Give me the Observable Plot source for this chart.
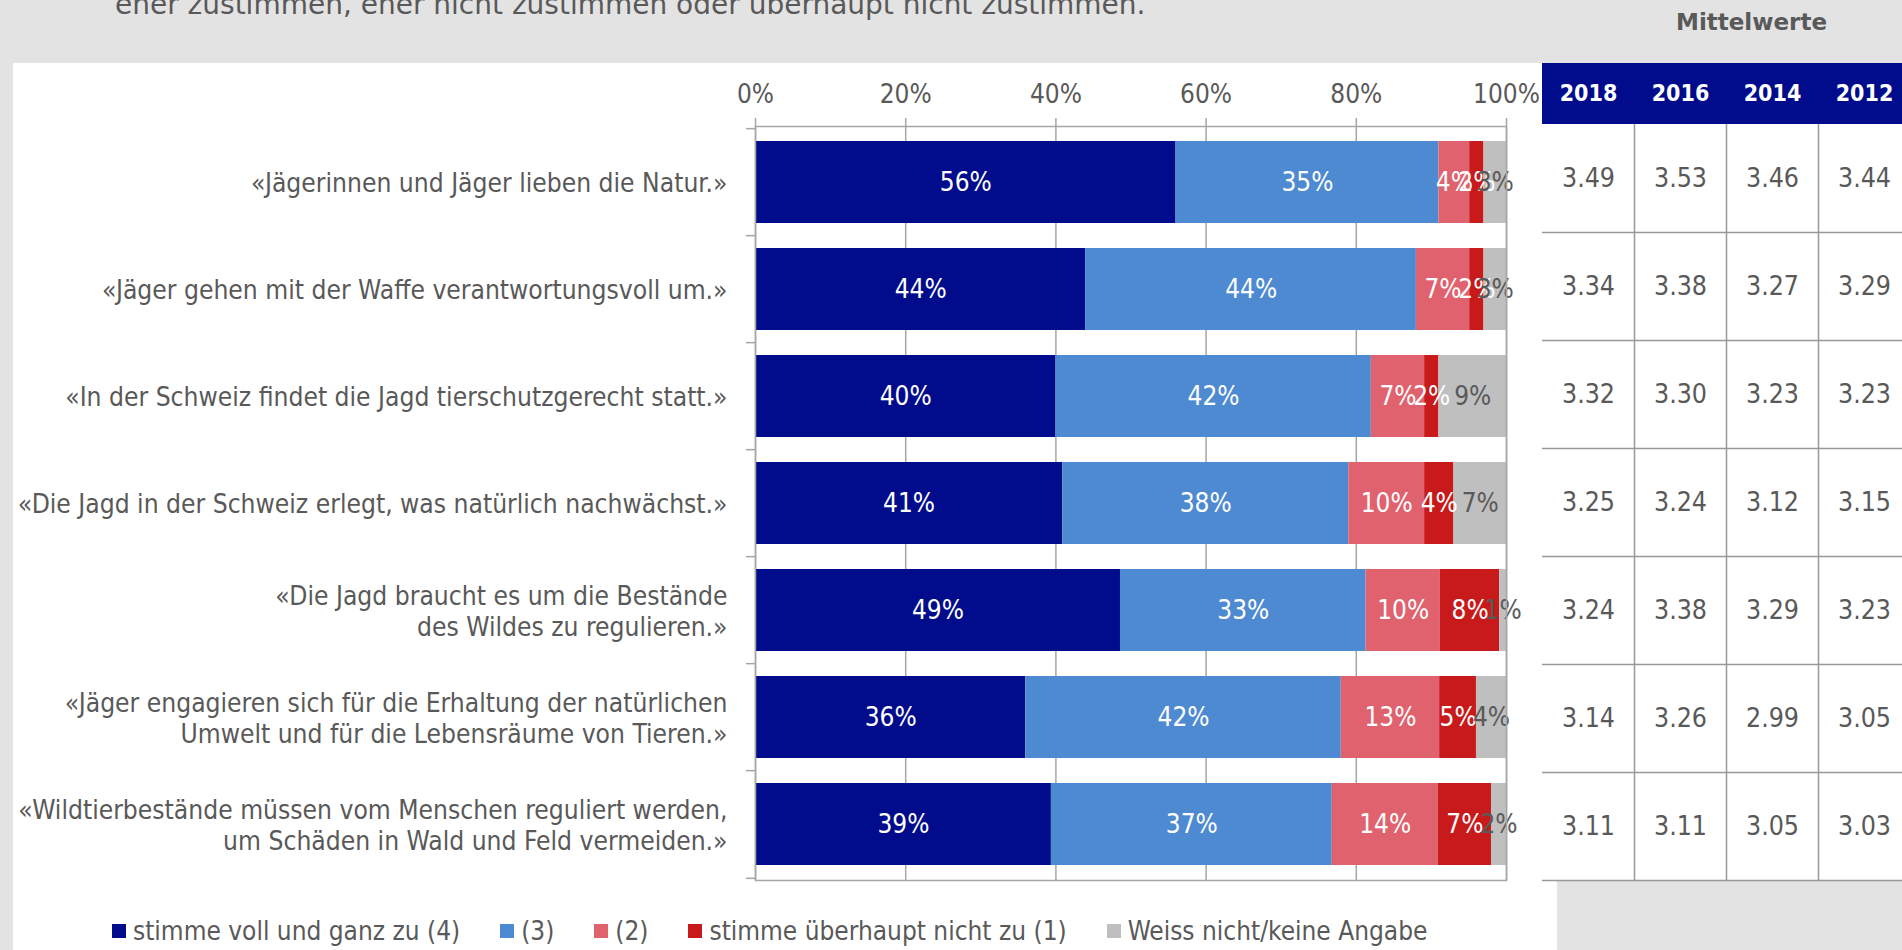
<!DOCTYPE html>
<html><head><meta charset="utf-8">
<script src="https://cdn.jsdelivr.net/npm/d3@7"></script>
<script src="https://cdn.jsdelivr.net/npm/@observablehq/plot@0.6"></script>
<style>
html,body{margin:0;padding:0;}
body{width:1902px;height:950px;overflow:hidden;background:#e3e3e3;position:relative;font-family:"DejaVu Sans Condensed","DejaVu Sans",sans-serif;font-stretch:condensed;color:#595959;}
.abs{position:absolute;}
svg{max-width:none !important;}
#panel{left:13px;top:63px;width:1544px;height:887px;background:#fff;}
#subtitle{left:115px;top:-9px;font-family:"DejaVu Sans",sans-serif;font-stretch:normal;font-size:28px;line-height:28px;white-space:nowrap;}
#mw{left:1676px;top:11px;font-family:"DejaVu Sans",sans-serif;font-stretch:normal;font-weight:bold;font-size:23px;line-height:23px;}
#legend{left:112px;top:915px;display:flex;align-items:center;font-size:26px;line-height:32px;white-space:nowrap;}
.item{display:flex;align-items:center;margin-right:40px;}
.sw{width:14px;height:14px;margin-right:7px;}
#thead,#tbody{width:368px;}
</style></head><body>
<div id="panel" class="abs"></div>
<div id="subtitle" class="abs">eher zustimmen, eher nicht zustimmen oder überhaupt nicht zustimmen.</div>
<div id="mw" class="abs">Mittelwerte</div>
<div id="chart" class="abs" style="left:0;top:0"></div>
<div id="thead" class="abs" style="left:1542px;top:63px"></div>
<div id="tbody" class="abs" style="left:1542px;top:124px"></div>
<div id="legend" class="abs"></div>
<script>
// ---- data ----
const statements = [
  "«Jägerinnen und Jäger lieben die Natur.»",
  "«Jäger gehen mit der Waffe verantwortungsvoll um.»",
  "«In der Schweiz findet die Jagd tierschutzgerecht statt.»",
  "«Die Jagd in der Schweiz erlegt, was natürlich nachwächst.»",
  "«Die Jagd braucht es um die Bestände\ndes Wildes zu regulieren.»",
  "«Jäger engagieren sich für die Erhaltung der natürlichen\nUmwelt und für die Lebensräume von Tieren.»",
  "«Wildtierbestände müssen vom Menschen reguliert werden,\num Schäden in Wald und Feld vermeiden.»"
];
const responses = ["stimme voll und ganz zu (4)", "(3)", "(2)", "stimme überhaupt nicht zu (1)", "Weiss nicht/keine Angabe"];
const responseColors = ["#000c8c", "#4e8ad2", "#e0626e", "#c8191b", "#bfbfbf"];
const stimmeVoll      = [56.0, 44.0, 40.0, 40.9, 48.6, 36.0, 39.4];
const eher3           = [35.0, 44.0, 42.0, 38.1, 32.7, 42.0, 37.4];
const eher2           = [4.1, 7.1, 7.1, 10.1, 9.9, 13.1, 14.1];
const ueberhauptNicht = [1.9, 1.9, 1.9, 3.9, 7.9, 4.9, 7.1];
const weissNicht      = [3.0, 3.0, 9.0, 7.0, 0.9, 4.0, 2.0];
const xTicks = [0, 20, 40, 60, 80, 100];
const years = ["2018", "2016", "2014", "2012"];
const mean2018 = [3.49, 3.34, 3.32, 3.25, 3.24, 3.14, 3.11];
const mean2016 = [3.53, 3.38, 3.30, 3.24, 3.38, 3.26, 3.11];
const mean2014 = [3.46, 3.27, 3.23, 3.12, 3.29, 2.99, 3.05];
const mean2012 = [3.44, 3.29, 3.23, 3.15, 3.23, 3.05, 3.03];

// ---- derived tables ----
const shares = [stimmeVoll, eher3, eher2, ueberhauptNicht, weissNicht];
const rows = statements.flatMap((s, i) => responses.map((r, j) => ({statement: s, response: r, value: shares[j][i], color: responseColors[j]})));
const means = [mean2018, mean2016, mean2014, mean2012];
const tableRows = statements.flatMap((s, i) => years.map((y, j) => ({statement: s, year: y, mean: means[j][i]})));

const FONT = '"DejaVu Sans Condensed","DejaVu Sans",sans-serif';
const TXT = "#595959";
const grid = "#a6a6a6";

// ---- bar chart ----
const W = 1540, H = 890, mTop = 126, mBottom = 10, mLeft = 755, mRight = 34;
const step = (H - mTop - mBottom) / statements.length;
const chart = Plot.plot({
  width: W, height: H, marginTop: mTop, marginBottom: mBottom, marginLeft: mLeft, marginRight: mRight,
  style: {fontFamily: FONT, fontSize: "26px", background: "transparent", overflow: "visible", fontStretch: "condensed"},
  x: {domain: [0, 100], label: null},
  y: {domain: statements, paddingInner: 0.23, paddingOuter: 0.115, label: null},
  color: {type: "identity"},
  marks: [
    Plot.ruleX(xTicks, {stroke: grid, strokeWidth: 1.5, insetTop: -8}),
    Plot.barX(rows, Plot.stackX({x: "value", y: "statement", z: "response", fill: "color"})),
    Plot.text(rows, Plot.stackX({x: "value", y: "statement", z: "response",
      text: d => Math.round(d.value) + "%",
      fill: d => d.response === responses[4] ? TXT : "#ffffff", fontSize: 26})),
    Plot.frame({stroke: grid, strokeWidth: 1.5}),
    Plot.ruleY(statements, {y: d => d, x1: 0, x2: 0, insetLeft: -9, dy: -step / 2, stroke: grid, strokeWidth: 1.5}),
    Plot.ruleY(statements.slice(-1), {y: d => d, x1: 0, x2: 0, insetLeft: -9, dy: step / 2, stroke: grid, strokeWidth: 1.5}),
    Plot.axisX(xTicks, {anchor: "top", tickSize: 0, tickPadding: 24, tickFormat: d => d + "%", fill: TXT, fontSize: 26, label: null}),
    Plot.axisY({anchor: "left", tickSize: 0, tickPadding: 28, fill: TXT, fontSize: 26.2, lineHeight: 1.18, label: null})
  ]
});
document.getElementById("chart").appendChild(chart);

// ---- table header ----
const TW = 368;
const head = Plot.plot({
  width: TW, height: 61, margin: 0,
  style: {fontFamily: FONT, fontSize: "23px", fontStretch: "condensed", background: "#000c8c"},
  x: {type: "band", domain: years, padding: 0, axis: null},
  marks: [
    Plot.cell(years, {x: d => d, fill: "#000c8c"}),
    Plot.text(years, {x: d => d, text: d => d, fill: "#ffffff", fontWeight: "bold", fontSize: 23})
  ]
});
document.getElementById("thead").appendChild(head);

// ---- table body ----
const BH = 757, colStep = TW / years.length, rowStep = (BH - 1) / statements.length;
const body = Plot.plot({
  width: TW, height: BH, marginTop: 0, marginBottom: 1, marginLeft: 0, marginRight: 0,
  style: {fontFamily: FONT, fontSize: "26px", fontStretch: "condensed", background: "#ffffff", overflow: "visible"},
  x: {type: "band", domain: years, padding: 0, axis: null},
  y: {type: "band", domain: statements, padding: 0, axis: null},
  marks: [
    Plot.ruleY(statements, {y: d => d, dy: rowStep / 2, stroke: "#999999", strokeWidth: 1.5}),
    Plot.ruleX(years.slice(1), {x: d => d, dx: -colStep / 2, stroke: "#999999", strokeWidth: 1.5}),
    Plot.text(tableRows, {x: "year", y: "statement", text: d => d.mean.toFixed(2), fill: TXT, fontSize: 26.5})
  ]
});
document.getElementById("tbody").appendChild(body);

// ---- legend ----
const lg = document.getElementById("legend");
responses.forEach((r, j) => {
  const it = document.createElement("div"); it.className = "item";
  const sw = document.createElement("span"); sw.className = "sw"; sw.style.background = responseColors[j];
  const tx = document.createElement("span"); tx.textContent = r;
  it.appendChild(sw); it.appendChild(tx); lg.appendChild(it);
});
</script>
</body></html>
